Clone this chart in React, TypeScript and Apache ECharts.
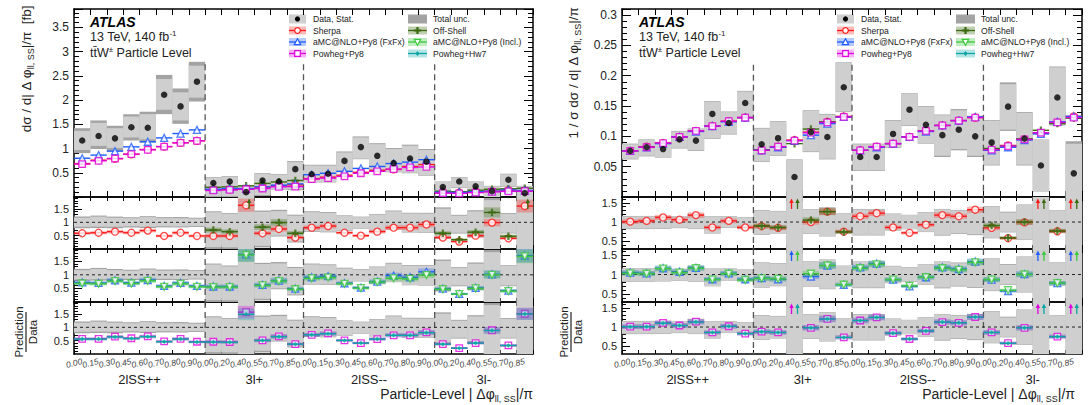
import { useEffect, useRef } from "react";
import * as echarts from "echarts";

const N = null;
const FONT = "Liberation Sans, Arial, Helvetica, sans-serif";

// ---------- bins ----------
const edgeLabels = [
  "0.00", "0.15", "0.30", "0.45", "0.60", "0.70", "0.80", "0.90",
  "0.00", "0.20", "0.40", "0.55", "0.70", "0.85",
  "0.00", "0.15", "0.30", "0.45", "0.60", "0.70", "0.80", "0.90",
  "0.00", "0.20", "0.40", "0.55", "0.70", "0.85",
];
const regionNames = ["2lSS++", "3l+", "2lSS--", "3l-"];
const regionBins = [8, 6, 8, 6];
const NBINS = 28;

// ---------- left panel: absolute [fb] ----------
const dataL = [1.165, 1.26, 1.21, 1.44, 1.43, 2.11, 1.87, 2.38, 0.29, 0.32, 0.10, 0.34, 0.32, 0.575, 0.47, 0.48, 0.745, 1.03, 0.85, 0.70, 0.795, 0.73, 0.205, 0.32, 0.22, 0.12, 0.355, 0.08];
const totHiL = [1.42, 1.58, 1.47, 1.71, 1.76, 2.52, 2.24, 2.79, 0.41, 0.43, 0.245, 0.49, 0.47, 0.74, 0.665, 0.665, 0.94, 1.25, 1.11, 1.01, 1.08, 0.99, 0.32, 0.41, 0.32, 0.23, 0.48, 0.23];
const statHiL = [1.365, 1.53, 1.42, 1.66, 1.71, 2.435, 2.16, 2.71, 0.40, 0.42, 0.235, 0.475, 0.455, 0.72, 0.65, 0.65, 0.92, 1.23, 1.09, 0.99, 1.06, 0.97, 0.31, 0.40, 0.31, 0.22, 0.47, 0.22];
const statLoL = [0.97, 1.056, 1.01, 1.23, 1.19, 1.80, 1.58, 2.05, 0.02, 0.02, -0.08, 0.04, 0.16, 0.16, 0.31, 0.31, 0.52, 0.79, 0.57, 0.52, 0.50, 0.45, 0.09, 0.195, 0.105, -0.05, 0.215, -0.06];
const totLoL = [0.905, 0.99, 0.94, 1.165, 1.125, 1.71, 1.51, 1.97, 0.0, 0.0, -0.1, 0.02, 0.15, 0.14, 0.30, 0.30, 0.51, 0.78, 0.56, 0.51, 0.49, 0.44, 0.08, 0.185, 0.095, -0.07, 0.205, -0.08];
const sherpaL = [0.69, 0.76, 0.79, 0.88, 0.98, 1.04, 1.12, 1.16, 0.15, 0.155, 0.165, 0.205, 0.235, 0.25, 0.38, 0.41, 0.45, 0.51, 0.55, 0.57, 0.63, 0.67, 0.09, 0.09, 0.11, 0.12, 0.14, 0.13];
const offShellL = [N, N, N, N, N, N, N, N, 0.20, 0.21, 0.23, 0.28, 0.31, 0.34, N, N, N, N, N, N, N, N, 0.12, 0.11, 0.14, 0.16, 0.17, 0.18];
const fxfxL = [0.80, 0.865, 0.947, 1.035, 1.14, 1.22, 1.31, 1.385, 0.16, 0.175, 0.175, 0.21, 0.245, 0.27, 0.46, 0.49, 0.53, 0.59, 0.63, 0.69, 0.72, 0.77, 0.10, 0.095, 0.11, 0.12, 0.145, 0.135];
const powhegL = [0.68, 0.747, 0.795, 0.885, 0.974, 1.04, 1.118, 1.16, 0.135, 0.145, 0.16, 0.175, 0.21, 0.215, 0.37, 0.39, 0.425, 0.49, 0.53, 0.575, 0.61, 0.62, 0.08, 0.075, 0.09, 0.105, 0.115, 0.12];
const rSherpaL = [0.59, 0.61, 0.65, 0.61, 0.69, 0.49, 0.61, 0.49, 0.49, 0.49, 1.64, 0.59, 0.75, 0.43, 0.80, 0.86, 0.61, 0.50, 0.65, 0.80, 0.80, 0.92, 0.43, 0.28, 0.50, 0.99, 0.40, 1.61];
const rOffShellL = [N, N, N, N, N, N, N, N, 0.71, 0.65, 2.2, 0.82, 0.99, 0.59, N, N, N, N, N, N, N, N, 0.59, 0.35, 0.63, 1.37, 0.48, 2.2];
const rFxfxL = [0.72, 0.70, 0.80, 0.71, 0.81, 0.59, 0.70, 0.59, 0.57, 0.57, 1.75, 0.63, 0.79, 0.49, 0.91, 0.95, 0.69, 0.53, 0.75, 0.97, 0.91, 1.11, 0.49, 0.30, 0.52, 1.02, 0.42, 1.71];
const rInclL = [0.68, 0.67, 0.77, 0.68, 0.78, 0.56, 0.67, 0.56, 0.55, 0.55, 1.73, 0.61, 0.77, 0.47, 0.87, 0.90, 0.67, 0.51, 0.73, 0.87, 0.85, 0.99, 0.47, 0.29, 0.50, 1.00, 0.40, 1.68];
const rPowhegL = [0.57, 0.57, 0.65, 0.59, 0.66, 0.47, 0.57, 0.46, 0.46, 0.45, 1.57, 0.51, 0.66, 0.37, 0.72, 0.77, 0.51, 0.41, 0.56, 0.70, 0.70, 0.81, 0.37, 0.22, 0.41, 0.89, 0.32, 1.51];
const rHw7L = [0.56, 0.56, 0.64, 0.58, 0.65, 0.46, 0.56, 0.45, 0.45, 0.44, 1.49, 0.51, 0.65, 0.37, 0.72, 0.76, 0.51, 0.41, 0.56, 0.70, 0.70, 0.80, 0.37, 0.22, 0.41, 0.88, 0.32, 1.50];
const predUncL = [0.10, 0.10, 0.10, 0.10, 0.10, 0.11, 0.11, 0.11, 0.13, 0.13, 0.15, 0.13, 0.13, 0.14, 0.10, 0.10, 0.10, 0.11, 0.11, 0.11, 0.11, 0.11, 0.13, 0.14, 0.13, 0.14, 0.14, 0.15];

// ---------- right panel: normalised ----------
const dataR = [0.076, 0.082, 0.079, 0.095, 0.093, 0.137, 0.122, 0.155, 0.087, 0.097, 0.033, 0.107, 0.099, 0.181, 0.066, 0.066, 0.104, 0.144, 0.119, 0.102, 0.111, 0.100, 0.090, 0.149, 0.096, 0.052, 0.164, 0.039];
const totHiR = [0.088, 0.095, 0.091, 0.109, 0.113, 0.158, 0.141, 0.175, 0.114, 0.125, 0.062, 0.143, 0.137, 0.222, 0.088, 0.088, 0.127, 0.171, 0.150, 0.136, 0.145, 0.134, 0.127, 0.189, 0.140, 0.095, 0.215, 0.092];
const statHiR = [0.087, 0.094, 0.090, 0.108, 0.112, 0.157, 0.140, 0.174, 0.113, 0.124, 0.061, 0.142, 0.136, 0.221, 0.087, 0.087, 0.126, 0.170, 0.149, 0.135, 0.143, 0.132, 0.126, 0.186, 0.139, 0.094, 0.214, 0.088];
const statLoR = [0.063, 0.068, 0.066, 0.081, 0.077, 0.097, 0.104, 0.130, 0.059, 0.069, -0.004, 0.075, 0.063, 0.141, 0.044, 0.044, 0.082, 0.118, 0.089, 0.068, 0.079, 0.068, 0.053, 0.111, 0.053, 0.010, 0.119, -0.009];
const totLoR = [0.062, 0.067, 0.065, 0.080, 0.076, 0.096, 0.103, 0.129, 0.058, 0.068, -0.005, 0.074, 0.062, 0.140, 0.043, 0.043, 0.081, 0.117, 0.088, 0.066, 0.077, 0.066, 0.052, 0.109, 0.052, 0.009, 0.118, -0.01];
const sherpaR = [0.076, 0.083, 0.089, 0.099, 0.109, 0.117, 0.125, 0.131, 0.077, 0.083, 0.094, 0.107, 0.124, 0.133, 0.077, 0.083, 0.088, 0.099, 0.109, 0.118, 0.126, 0.131, 0.078, 0.085, 0.095, 0.105, 0.123, 0.133];
const offShellR = [N, N, N, N, N, N, N, N, 0.078, 0.082, 0.088, 0.112, 0.124, 0.132, N, N, N, N, N, N, N, N, 0.080, 0.084, 0.096, 0.110, 0.121, 0.130];
const fxfxR = [0.076, 0.082, 0.088, 0.099, 0.108, 0.117, 0.124, 0.131, 0.077, 0.082, 0.093, 0.102, 0.121, 0.132, 0.077, 0.082, 0.088, 0.099, 0.108, 0.118, 0.126, 0.132, 0.077, 0.082, 0.094, 0.104, 0.124, 0.133];
const powhegR = [0.076, 0.082, 0.089, 0.099, 0.109, 0.117, 0.125, 0.131, 0.077, 0.083, 0.093, 0.106, 0.123, 0.132, 0.077, 0.083, 0.088, 0.099, 0.109, 0.118, 0.126, 0.131, 0.078, 0.084, 0.095, 0.106, 0.123, 0.131];
const rSherpaR = [1.01, 1.03, 1.12, 1.06, 1.18, 0.86, 1.03, 0.86, 0.89, 0.85, 2.0, 1.00, 1.27, 0.75, 1.15, 1.23, 0.86, 0.72, 0.93, 1.18, 1.15, 1.32, 0.85, 0.58, 0.99, 2.0, 0.76, 2.0];
const rOffShellR = [N, N, N, N, N, N, N, N, 0.90, 0.86, 2.0, 1.05, 1.27, 0.74, N, N, N, N, N, N, N, N, 0.91, 0.59, 1.00, 2.0, 0.77, 2.0];
const rFxfxR = [1.05, 1.03, 1.16, 1.07, 1.17, 0.88, 1.03, 0.88, 0.91, 0.88, 2.0, 0.95, 1.23, 0.74, 1.18, 1.28, 0.87, 0.70, 0.93, 1.18, 1.14, 1.33, 0.87, 0.58, 1.01, 2.0, 0.78, 2.0];
const rInclR = [1.03, 1.02, 1.15, 1.05, 1.16, 0.87, 1.02, 0.86, 0.90, 0.89, 2.0, 1.02, 1.23, 0.74, 1.16, 1.26, 0.87, 0.71, 0.93, 1.16, 1.12, 1.31, 0.87, 0.60, 1.00, 2.0, 0.78, 2.0];
const rPowhegR = [1.01, 1.01, 1.11, 1.04, 1.14, 0.86, 1.02, 0.83, 0.88, 0.86, 2.0, 0.98, 1.21, 0.73, 1.17, 1.25, 0.84, 0.69, 0.90, 1.13, 1.11, 1.26, 0.86, 0.58, 0.98, 2.0, 0.75, 2.0];
const rHw7R = [1.01, 1.01, 1.10, 1.04, 1.13, 0.86, 1.02, 0.83, 0.88, 0.86, 2.0, 0.98, 1.21, 0.73, 1.17, 1.25, 0.84, 0.69, 0.90, 1.13, 1.11, 1.26, 0.86, 0.58, 0.98, 2.0, 0.75, 2.0];
const predUncR = [0.06, 0.06, 0.06, 0.06, 0.06, 0.06, 0.06, 0.06, 0.07, 0.07, 0.08, 0.07, 0.07, 0.07, 0.06, 0.06, 0.06, 0.06, 0.06, 0.06, 0.06, 0.06, 0.07, 0.07, 0.07, 0.08, 0.07, 0.08];

// ---------- styles ----------
const LIGHT = "#cfcfcf";
const DARK = "#a3a3a3";
const MODELS: any = {
  sherpa: { name: "Sherpa", color: "#ff1a1a", band: "rgba(255,40,40,0.32)", mk: "circle" },
  offShell: { name: "Off-Shell", color: "#3b6a10", band: "rgba(59,106,16,0.32)", mk: "cross" },
  fxfx: { name: "aMC@NLO+Py8 (FxFx)", color: "#1f5cff", band: "rgba(31,92,255,0.32)", mk: "tri" },
  incl: { name: "aMC@NLO+Py8 (Incl.)", color: "#3cc83c", band: "rgba(60,200,60,0.32)", mk: "invtri" },
  powheg: { name: "Powheg+Py8", color: "#e000e0", band: "rgba(224,0,224,0.3)", mk: "square" },
  hw7: { name: "Powheg+Hw7", color: "#0aa5a5", band: "rgba(10,165,165,0.3)", mk: "diamond" },
};
const SYMBOLS: any = {
  circle: { symbol: "circle", size: 7, filled: false },
  tri: { symbol: "triangle", size: 7, filled: false },
  invtri: { symbol: "path://M0,0L10,0L5,9Z", size: 7, filled: false },
  square: { symbol: "rect", size: 6.5, filled: false },
  cross: { symbol: "path://M3.5,0H6.5V3.5H10V6.5H6.5V10H3.5V6.5H0V3.5H3.5Z", size: 7.5, filled: true },
  diamond: { symbol: "diamond", size: 4.5, filled: true },
};

const MAIN_TOP = 9, MAIN_H = 188;
const R_TOPS = [197, 249, 302], R_H = [52, 53, 52];

const PANELS: any[] = [
  {
    left: 74, width: 459,
    main: { min: 0, max: 3.88, interval: 0.5, dividerTop: 2.74 },
    ratio: { min: 0, max: 1.95, major: [0.5, 1, 1.5], minor: [0.1, 0.2, 0.3, 0.4, 0.6, 0.7, 0.8, 0.9, 1.1, 1.2, 1.3, 1.4, 1.6, 1.7, 1.8, 1.9] },
    data: dataL, statLo: statLoL, statHi: statHiL, totLo: totLoL, totHi: totHiL,
    mainPreds: [["sherpa", sherpaL], ["offShell", offShellL], ["fxfx", fxfxL], ["powheg", powhegL]],
    ratioPreds: [[["sherpa", rSherpaL], ["offShell", rOffShellL]], [["fxfx", rFxfxL], ["incl", rInclL]], [["powheg", rPowhegL], ["hw7", rHw7L]]],
    unc: predUncL,
    yTitle: "{a|dσ / d| Δ φ}{s|ll, SS}{a||/π  [fb]}", yTitleX: 26, yTitleY: 69,
    fracX: 26, atlasX: 90, legX: [289, 408], titleRight: 533,
  },
  {
    left: 622, width: 460,
    main: { min: 0, max: 0.31, interval: 0.05, dividerTop: 0.218 },
    ratio: { min: 0.3, max: 1.65, major: [0.5, 1, 1.5], minor: [0.4, 0.6, 0.7, 0.8, 0.9, 1.1, 1.2, 1.3, 1.4, 1.6] },
    data: dataR, statLo: statLoR, statHi: statHiR, totLo: totLoR, totHi: totHiR,
    mainPreds: [["sherpa", sherpaR], ["offShell", offShellR], ["fxfx", fxfxR], ["powheg", powhegR]],
    ratioPreds: [[["sherpa", rSherpaR], ["offShell", rOffShellR]], [["fxfx", rFxfxR], ["incl", rInclR]], [["powheg", rPowhegR], ["hw7", rHw7R]]],
    unc: predUncR,
    yTitle: "{a|1 / σ dσ / d| Δ φ}{s|ll, SS}{a||/π}", yTitleX: 573, yTitleY: 73,
    fracX: 571, atlasX: 639, legX: [837, 956], titleRight: 1075,
  },
];

const EMPTY = { type: "group", children: [] };

function xAxisDef(g: number, pos: string, tickLen: number) {
  return {
    gridIndex: g, type: "value", position: pos, min: 0, max: NBINS, interval: 1,
    axisLine: { show: true, onZero: false, lineStyle: { color: "#000", width: 1.5 } },
    axisTick: { show: true, inside: true, length: tickLen, lineStyle: { color: "#000", width: 1 } },
    splitLine: { show: false },
    axisLabel: { show: false },
  };
}

function mainY(g: number, pos: string, M: any, labels: boolean) {
  return {
    gridIndex: g, type: "value", position: pos, min: M.min, max: M.max, interval: M.interval,
    axisLine: { show: true, onZero: false, lineStyle: { color: "#000", width: 1.5 } },
    axisTick: { show: true, inside: true, length: 9, lineStyle: { color: "#000", width: 1 } },
    minorTick: { show: true, splitNumber: 5, length: 5, lineStyle: { color: "#000", width: 1 } },
    splitLine: { show: false }, minorSplitLine: { show: false },
    axisLabel: labels
      ? {
          show: true, margin: 5, fontSize: 12, color: "#222", fontFamily: FONT,
          formatter: (v: number) => {
            const q = v / M.interval;
            return v > 1e-9 && Math.abs(q - Math.round(q)) < 1e-6 ? String(+v.toFixed(3)) : "";
          },
        }
      : { show: false },
  };
}

function ratioY(g: number, pos: string, R: any, labels: boolean, minor: boolean) {
  return {
    gridIndex: g, type: "value", position: pos, min: R.min, max: R.max,
    axisLine: { show: !minor, onZero: false, lineStyle: { color: "#000", width: 1.5 } },
    axisTick: { show: true, inside: true, length: minor ? 4 : 8, customValues: minor ? R.minor : R.major, lineStyle: { color: "#000", width: 1 } },
    splitLine: { show: false },
    axisLabel: labels ? { show: true, customValues: R.major, margin: 5, fontSize: 11, color: "#222", fontFamily: FONT } : { show: false },
  };
}

function boxSeries(xi: number, yi: number, lo: number[], hi: number[], yMin: number, yMax: number, fill: string, z: number) {
  return {
    type: "custom", xAxisIndex: xi, yAxisIndex: yi, z, clip: true, silent: true,
    data: lo.map((l, i) => [i, l, hi[i]]),
    renderItem: (_p: any, api: any) => {
      const i = api.value(0);
      const l = Math.max(api.value(1), yMin), h = Math.min(api.value(2), yMax);
      if (!(h > l)) return EMPTY;
      const a = api.coord([i, h]), b = api.coord([i + 1, l]);
      return { type: "rect", shape: { x: a[0], y: a[1], width: b[0] - a[0], height: b[1] - a[1] }, style: { fill } };
    },
  };
}

function edgeLabelSeries(xi: number, yi: number, yMin: number) {
  return {
    type: "custom", xAxisIndex: xi, yAxisIndex: yi, z: 5, clip: false, silent: true,
    data: edgeLabels.map((_t, i) => [i]),
    renderItem: (params: any, api: any) => {
      const i = api.value(0);
      const p = api.coord([i, yMin]);
      return {
        type: "text", x: p[0], y: p[1] + 9, rotation: 0.24,
        style: { text: edgeLabels[params.dataIndex], fontStyle: "italic", fontSize: 8.5, fontFamily: FONT, fill: "#444", align: "center", verticalAlign: "middle" },
      };
    },
  };
}

function dividerSeries(xi: number, yi: number, top: number, bottom: number, starts: number[]) {
  return {
    type: "custom", xAxisIndex: xi, yAxisIndex: yi, z: 3, clip: false, silent: true,
    data: starts.map((s) => [s]),
    renderItem: (_p: any, api: any) => {
      const x = api.value(0);
      const a = api.coord([x, top]), b = api.coord([x, bottom]);
      return { type: "line", shape: { x1: a[0], y1: a[1], x2: b[0], y2: b[1] }, style: { stroke: "#555", lineWidth: 1.3, lineDash: [6, 4] } };
    },
  };
}

function unitySeries(xi: number, yi: number) {
  return {
    type: "custom", xAxisIndex: xi, yAxisIndex: yi, z: 3, silent: true,
    data: [[0]],
    renderItem: (_p: any, api: any) => {
      const a = api.coord([0, 1]), b = api.coord([NBINS, 1]);
      return { type: "line", shape: { x1: a[0], y1: a[1], x2: b[0], y2: b[1] }, style: { stroke: "#222", lineWidth: 1, lineDash: [3, 3] } };
    },
  };
}

function predSeries(xi: number, yi: number, vals: (number | null)[], unc: number[] | null, m: any, yMin: number, yMax: number, arrowOff: number, z: number) {
  const data: any[] = [];
  vals.forEach((v, i) => { if (v !== null) data.push([i, v, unc ? unc[i] : 0]); });
  return {
    type: "custom", xAxisIndex: xi, yAxisIndex: yi, z, clip: false, silent: true,
    data,
    renderItem: (_p: any, api: any) => {
      const i = api.value(0), v = api.value(1), u = api.value(2);
      const ch: any[] = [];
      if (v > yMax) {
        const t = api.coord([i + 0.5, yMax]);
        const x = t[0] + arrowOff;
        ch.push({ type: "line", shape: { x1: x, y1: t[1] + 12, x2: x, y2: t[1] + 4 }, style: { stroke: m.color, lineWidth: 1.3 } });
        ch.push({ type: "polygon", shape: { points: [[x - 2.2, t[1] + 6], [x + 2.2, t[1] + 6], [x, t[1] + 1.5]] }, style: { fill: m.color } });
        return { type: "group", children: ch };
      }
      if (v < yMin) return EMPTY;
      if (u > 0) {
        const lo = Math.max(v * (1 - u), yMin), hi = Math.min(v * (1 + u), yMax);
        const a = api.coord([i, hi]), b = api.coord([i + 1, lo]);
        ch.push({ type: "rect", shape: { x: a[0], y: a[1], width: b[0] - a[0], height: b[1] - a[1] }, style: { fill: m.band } });
      }
      const a = api.coord([i, v]), b = api.coord([i + 1, v]);
      ch.push({ type: "line", shape: { x1: a[0], y1: a[1], x2: b[0], y2: b[1] }, style: { stroke: m.color, lineWidth: 1.4 } });
      return { type: "group", children: ch };
    },
  };
}

function markerSeries(xi: number, yi: number, vals: (number | null)[], m: any, yMin: number, yMax: number, z: number) {
  const s = SYMBOLS[m.mk];
  const data: any[] = [];
  vals.forEach((v, i) => { if (v !== null && v <= yMax && v >= yMin) data.push([i + 0.5, v]); });
  return {
    type: "scatter", xAxisIndex: xi, yAxisIndex: yi, z, silent: true,
    symbol: s.symbol, symbolSize: s.size, data,
    itemStyle: s.filled ? { color: m.color, borderWidth: 0 } : { color: "#fff", borderColor: m.color, borderWidth: 1.3 },
  };
}

function markerGraphic(m: any, cx: number, cy: number) {
  const c = m.color;
  const open = { fill: "#fff", stroke: c, lineWidth: 1.2 };
  switch (m.mk) {
    case "circle": return { type: "circle", shape: { cx, cy, r: 2.8 }, style: open };
    case "tri": return { type: "polygon", shape: { points: [[cx, cy - 3.2], [cx + 3.2, cy + 2.6], [cx - 3.2, cy + 2.6]] }, style: open };
    case "invtri": return { type: "polygon", shape: { points: [[cx - 3.2, cy - 2.6], [cx + 3.2, cy - 2.6], [cx, cy + 3.2]] }, style: open };
    case "square": return { type: "rect", shape: { x: cx - 2.8, y: cy - 2.8, width: 5.6, height: 5.6 }, style: open };
    case "cross": return { type: "polygon", shape: { points: [[cx - 1.1, cy - 3.6], [cx + 1.1, cy - 3.6], [cx + 1.1, cy - 1.1], [cx + 3.6, cy - 1.1], [cx + 3.6, cy + 1.1], [cx + 1.1, cy + 1.1], [cx + 1.1, cy + 3.6], [cx - 1.1, cy + 3.6], [cx - 1.1, cy + 1.1], [cx - 3.6, cy + 1.1], [cx - 3.6, cy - 1.1], [cx - 1.1, cy - 1.1]] }, style: { fill: c } };
    default: return { type: "polygon", shape: { points: [[cx, cy - 2.4], [cx + 2, cy], [cx, cy + 2.4], [cx - 2, cy]] }, style: { fill: c } };
  }
}

function buildOption() {
  const grids: any[] = [], xAxes: any[] = [], yAxes: any[] = [], series: any[] = [], gfx: any[] = [];
  const dividers: number[] = [];
  let acc = 0;
  regionBins.forEach((b, k) => { acc += b; if (k < regionBins.length - 1) dividers.push(acc); });

  PANELS.forEach((P) => {
    const layout = [{ top: MAIN_TOP, height: MAIN_H }, ...R_TOPS.map((t, k) => ({ top: t, height: R_H[k] }))];
    layout.forEach((L, gi) => {
      const g = grids.length;
      grids.push({ left: P.left, top: L.top, width: P.width, height: L.height, containLabel: false, outerBoundsMode: "none", show: false });
      const isMain = gi === 0;
      const xb = xAxes.length;
      xAxes.push(xAxisDef(g, "bottom", isMain ? 6 : 4));
      xAxes.push(xAxisDef(g, "top", isMain ? 6 : 4));
      const yl = yAxes.length;
      let yMin: number, yMax: number;
      if (isMain) {
        yMin = P.main.min; yMax = P.main.max;
        yAxes.push(mainY(g, "left", P.main, true));
        yAxes.push(mainY(g, "right", P.main, false));
      } else {
        yMin = P.ratio.min; yMax = P.ratio.max;
        yAxes.push(ratioY(g, "left", P.ratio, true, false));
        yAxes.push(ratioY(g, "left", P.ratio, false, true));
        yAxes.push(ratioY(g, "right", P.ratio, false, false));
        yAxes.push(ratioY(g, "right", P.ratio, false, true));
      }
      if (isMain) {
        series.push(boxSeries(xb, yl, P.totLo, P.totHi, yMin, yMax, DARK, 1));
        series.push(boxSeries(xb, yl, P.statLo, P.statHi, yMin, yMax, LIGHT, 2));
        series.push(dividerSeries(xb, yl, P.main.dividerTop, yMin, dividers));
        P.mainPreds.forEach(([key, vals]: any, k: number) => {
          series.push(predSeries(xb, yl, vals, null, MODELS[key], yMin, yMax, 0, 10 + k * 2));
          series.push(markerSeries(xb, yl, vals, MODELS[key], yMin, yMax, 11 + k * 2));
        });
        const dpts: any[] = [];
        P.data.forEach((v: number, i: number) => { if (v >= yMin && v <= yMax) dpts.push([i + 0.5, v]); });
        series.push({ type: "scatter", xAxisIndex: xb, yAxisIndex: yl, z: 30, silent: true, symbol: "circle", symbolSize: 6.5, itemStyle: { color: "#000" }, data: dpts });
      } else {
        const d = P.data;
        series.push(boxSeries(xb, yl, P.totLo.map((v: number, i: number) => v / d[i]), P.totHi.map((v: number, i: number) => v / d[i]), yMin, yMax, DARK, 1));
        series.push(boxSeries(xb, yl, P.statLo.map((v: number, i: number) => v / d[i]), P.statHi.map((v: number, i: number) => v / d[i]), yMin, yMax, LIGHT, 2));
        series.push(dividerSeries(xb, yl, yMax, yMin, dividers));
        series.push(unitySeries(xb, yl));
        P.ratioPreds[gi - 1].forEach(([key, vals]: any, k: number) => {
          series.push(predSeries(xb, yl, vals, P.unc, MODELS[key], yMin, yMax, k === 0 ? -3 : 3, 10 + k * 2));
          series.push(markerSeries(xb, yl, vals, MODELS[key], yMin, yMax, 11 + k * 2));
        });
        if (gi === 3) series.push(edgeLabelSeries(xb, yl, yMin));
      }
    });

    // ----- texts -----
    const binW = P.width / NBINS;
    gfx.push({ type: "text", x: P.atlasX, y: 22, style: { text: "ATLAS", font: `italic bold 14px ${FONT}`, fill: "#000", verticalAlign: "middle" } });
    gfx.push({
      type: "text", x: P.atlasX, y: 37,
      style: { text: "{a|13 TeV, 140 fb}{p|-1}", verticalAlign: "middle", rich: { a: { fontSize: 12.5, fontFamily: FONT, fill: "#222", lineHeight: 16 }, p: { fontSize: 8, fontFamily: FONT, fill: "#222", verticalAlign: "top", lineHeight: 16 } } },
    });
    gfx.push({
      type: "text", x: P.atlasX, y: 53,
      style: { text: "{a|tt̄W}{p|±}{a| Particle Level}", verticalAlign: "middle", rich: { a: { fontSize: 12.5, fontFamily: FONT, fill: "#222", lineHeight: 16 }, p: { fontSize: 8, fontFamily: FONT, fill: "#222", verticalAlign: "top", lineHeight: 16 } } },
    });
    gfx.push({
      type: "text", x: P.yTitleX, y: P.yTitleY, rotation: Math.PI / 2,
      style: { text: P.yTitle, align: "center", verticalAlign: "middle", rich: { a: { fontSize: 13.5, fontFamily: FONT, fill: "#222", lineHeight: 18 }, s: { fontSize: 9, fontFamily: FONT, fill: "#222", verticalAlign: "bottom", lineHeight: 18 } } },
    });
    gfx.push({ type: "text", x: P.fracX - 7, y: 332, rotation: Math.PI / 2, style: { text: "Prediction", font: `11.5px ${FONT}`, fill: "#222", align: "center", verticalAlign: "middle" } });
    gfx.push({ type: "line", shape: { x1: P.fracX, y1: 312, x2: P.fracX, y2: 352 }, style: { stroke: "#222", lineWidth: 1.2 } });
    gfx.push({ type: "text", x: P.fracX + 7, y: 332, rotation: Math.PI / 2, style: { text: "Data", font: `11.5px ${FONT}`, fill: "#222", align: "center", verticalAlign: "middle" } });
    let start = 0;
    regionNames.forEach((name, k) => {
      const c = start + regionBins[k] / 2;
      start += regionBins[k];
      gfx.push({ type: "text", x: P.left + c * binW, y: 379, style: { text: name, font: `13px ${FONT}`, fill: "#222", align: "center", verticalAlign: "middle" } });
    });
    gfx.push({
      type: "text", x: P.titleRight, y: 394,
      style: { text: "{a|Particle-Level | Δφ}{s|ll, SS}{a||/π}", align: "right", verticalAlign: "middle", rich: { a: { fontSize: 14, fontFamily: FONT, fill: "#222", lineHeight: 18 }, s: { fontSize: 9, fontFamily: FONT, fill: "#222", verticalAlign: "bottom", lineHeight: 18 } } },
    });

    // ----- legend -----
    const rows = [19, 30.5, 42, 53.5];
    const entries: any[] = [["data", "total"], ["sherpa", "offShell"], ["fxfx", "incl"], ["powheg", "hw7"]];
    entries.forEach((pair, r) => {
      pair.forEach((key: string, c: number) => {
        const x0 = P.legX[c], cy = rows[r];
        const w = c === 0 ? 17 : 19;
        let label = "";
        if (key === "data") {
          gfx.push({ type: "rect", shape: { x: x0, y: cy - 4.5, width: w, height: 9 }, style: { fill: LIGHT } });
          gfx.push({ type: "circle", shape: { cx: x0 + w / 2, cy, r: 2.6 }, style: { fill: "#000" } });
          label = "Data, Stat.";
        } else if (key === "total") {
          gfx.push({ type: "rect", shape: { x: x0, y: cy - 4.5, width: w, height: 9 }, style: { fill: DARK } });
          label = "Total unc.";
        } else {
          const m = MODELS[key];
          gfx.push({ type: "rect", shape: { x: x0, y: cy - 4, width: w, height: 8 }, style: { fill: m.band } });
          gfx.push({ type: "line", shape: { x1: x0, y1: cy, x2: x0 + w, y2: cy }, style: { stroke: m.color, lineWidth: 1.3 } });
          gfx.push(markerGraphic(m, x0 + w / 2, cy));
          label = m.name;
        }
        gfx.push({ type: "text", x: x0 + (c === 0 ? 24 : 25), y: cy, style: { text: label, font: `8.6px ${FONT}`, fill: "#222", verticalAlign: "middle" } });
      });
    });
  });

  return {
    animation: false,
    backgroundColor: "#fff",
    grid: grids,
    xAxis: xAxes,
    yAxis: yAxes,
    series,
    graphic: { elements: gfx },
  };
}

export default function App() {
  const ref = useRef<HTMLDivElement>(null);
  useEffect(() => {
    if (!ref.current) return;
    const chart = echarts.init(ref.current, null, { renderer: "svg" });
    chart.setOption(buildOption() as any);
    return () => chart.dispose();
  }, []);
  return <div ref={ref} style={{ position: "absolute", left: 0, top: 0, width: 1089, height: 405, background: "#fff" }} />;
}
